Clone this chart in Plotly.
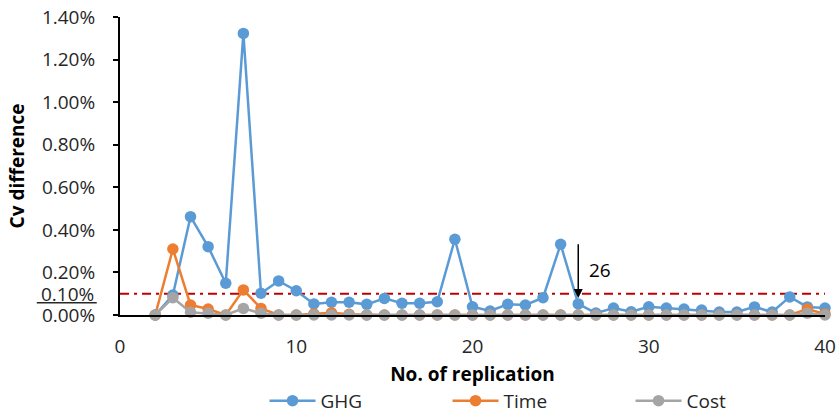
import plotly.graph_objects as go

# Replication numbers and coefficient-of-variation differences (%)
replications = list(range(2, 41))

ghg = [0.00, 0.094, 0.462, 0.321, 0.149, 1.323, 0.102, 0.160, 0.114, 0.052,
       0.060, 0.060, 0.050, 0.078, 0.055, 0.055, 0.062, 0.356, 0.039, 0.019,
       0.050, 0.047, 0.081, 0.332, 0.052, 0.009, 0.033, 0.015, 0.039, 0.033,
       0.028, 0.023, 0.014, 0.014, 0.038, 0.014, 0.085, 0.038, 0.033]

time = [0.00, 0.310, 0.047, 0.028, 0.00, 0.118, 0.031, 0.00, 0.00, 0.005,
        0.010, 0.003, 0.00, 0.00, 0.00, 0.00, 0.00, 0.00, 0.00, 0.00,
        0.00, 0.00, 0.00, 0.00, 0.00, 0.00, 0.00, 0.00, 0.00, 0.00,
        0.00, 0.00, 0.00, 0.00, 0.00, 0.00, 0.00, 0.028, 0.005]

cost = [0.00, 0.081, 0.013, 0.008, 0.00, 0.031, 0.008, 0.00, 0.00, 0.00,
        0.00, 0.00, 0.00, 0.00, 0.00, 0.00, 0.00, 0.00, 0.00, 0.00,
        0.00, 0.00, 0.00, 0.00, 0.00, 0.00, 0.00, 0.00, 0.00, 0.00,
        0.00, 0.00, 0.00, 0.00, 0.00, 0.00, 0.00, 0.008, 0.00]

series_names = ["GHG", "Time", "Cost"]
series_colors = ["#5B9BD5", "#ED7D31", "#A5A5A5"]

threshold = 0.10        # acceptance threshold (%)
chosen_rep = 26         # replication where all series stay below threshold
arrow_top = 0.34
arrow_tip = 0.08

x_ticks = [0, 10, 20, 30, 40]
y_ticks = [0.0, 0.2, 0.4, 0.6, 0.8, 1.0, 1.2, 1.4]
y_tick_text = [f"{v:.2f}%" for v in y_ticks]

FONT = "Open Sans"
TXT = "#262626"

fig = go.Figure()
for name, vals, col in zip(series_names, [ghg, time, cost], series_colors):
    fig.add_trace(go.Scatter(
        x=replications, y=vals, name=name, mode="lines+markers",
        line=dict(color=col, width=2.5),
        marker=dict(color=col, size=11.5),
        cliponaxis=False,
    ))

# Threshold line
fig.add_shape(type="line", xref="x", yref="y", x0=0, x1=40,
              y0=threshold, y1=threshold,
              line=dict(color="#C00000", width=2, dash="9px,5px,3px,5px"),
              layer="below")

# Arrow marking the chosen replication
fig.add_annotation(x=chosen_rep, y=arrow_tip, ax=chosen_rep, ay=arrow_top,
                   xref="x", yref="y", axref="x", ayref="y",
                   showarrow=True, arrowhead=2, arrowsize=1.2, arrowwidth=1.5,
                   arrowcolor="black", text="")
fig.add_annotation(x=chosen_rep + 0.5, y=0.21, xref="x", yref="y",
                   text=str(chosen_rep), showarrow=False, xanchor="left",
                   font=dict(family=FONT, size=19, color="black"))

# Extra threshold label on the y axis, underlined
fig.add_annotation(x=-0.034, y=threshold - 0.003, xref="paper", yref="y",
                   text="0.10%", showarrow=False, xanchor="right",
                   font=dict(family=FONT, size=19, color=TXT))
fig.add_shape(type="line", xref="paper", yref="y", x0=-0.118, x1=-0.033,
              y0=0.057, y1=0.057, line=dict(color=TXT, width=1.5))

fig.update_layout(
    width=836, height=413,
    margin=dict(l=120, r=11, t=17, b=98, autoexpand=False),
    paper_bgcolor="white", plot_bgcolor="white",
    font=dict(family=FONT, size=19, color=TXT),
    showlegend=True,
    legend=dict(orientation="h", xanchor="left", x=0.205,
                yanchor="middle", y=-0.288, font=dict(size=19),
                itemwidth=46, entrywidth=122, entrywidthmode="pixels",
                tracegroupgap=0),
)

fig.update_xaxes(
    range=[0, 40], tickvals=x_ticks, showgrid=False, zeroline=False,
    showline=True, linecolor="black", linewidth=2,
    ticks="", ticklabelstandoff=13, automargin=False,
    title=dict(text="<b>No. of replication</b>", standoff=10,
               font=dict(size=19, color="black")),
)
fig.update_yaxes(
    range=[0, 1.4], tickvals=y_ticks, ticktext=y_tick_text,
    showgrid=False, zeroline=False,
    showline=True, linecolor="black", linewidth=2,
    ticks="outside", ticklen=5, tickcolor="black", tickwidth=1.5,
    ticklabelstandoff=14, automargin=False,
    title=dict(text="<b>Cv difference</b>", standoff=12,
               font=dict(size=19, color="black")),
)

fig.write_html("out.html")
